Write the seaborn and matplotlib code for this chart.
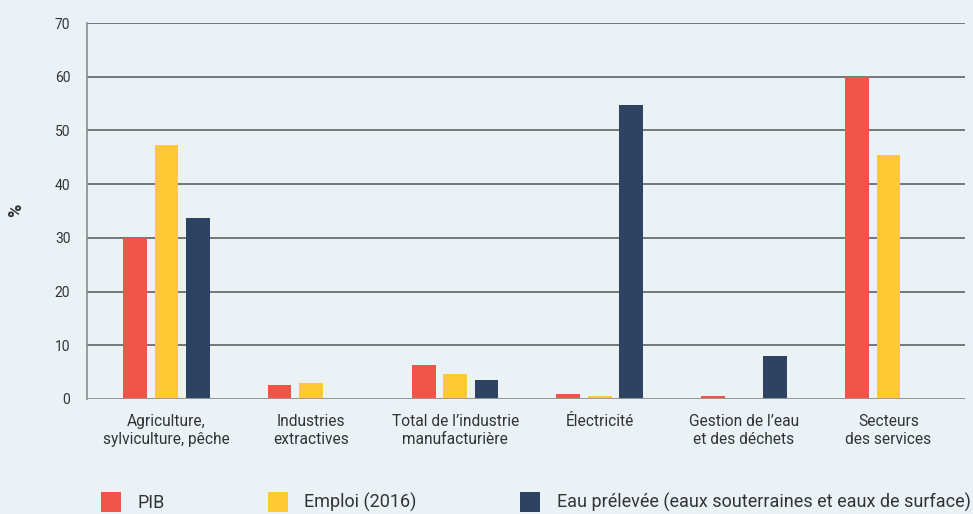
import pandas as pd
import numpy as np
import seaborn as sns
import matplotlib.pyplot as plt
from matplotlib.patches import Patch

# data (%)
secteurs = ['Agriculture,\nsylviculture, pêche', 'Industries\nextractives',
            'Total de l\u2019industrie\nmanufacturière', 'Électricité',
            'Gestion de l\u2019eau\net des déchets', 'Secteurs\ndes services']
series = ['PIB', 'Emploi (2016)', 'Eau prélevée (eaux souterraines et eaux de surface)']
pib = [30.0, 2.6, 6.3, 0.9, 0.5, 60.0]
emploi = [47.2, 3.0, 4.7, 0.5, 0.0, 45.4]
eau = [33.7, 0.0, 3.5, 54.8, 8.0, 0.0]
yticks = [0, 10, 20, 30, 40, 50, 60, 70]

couleurs = ['#F0554A', '#FFC933', '#2E4261']
fond = '#EAF2F6'

df = pd.DataFrame({'secteur': secteurs * 3,
                   'serie': np.repeat(series, len(secteurs)),
                   'valeur': pib + emploi + eau})

sns.set_style('white')
plt.rcParams['font.family'] = ['Roboto', 'DejaVu Sans']

fig = plt.figure(figsize=(9.73, 5.14), dpi=100, facecolor=fond)
ax = fig.add_axes([87/973, 1 - 399/514, (965 - 87)/973, (399 - 23)/514])
ax.set_facecolor(fond)

sns.barplot(data=df, x='secteur', y='valeur', hue='serie', order=secteurs,
            hue_order=series, palette=couleurs, width=0.65, gap=0.24,
            saturation=1, linewidth=0, ax=ax, legend=False)

ax.set_xlim(-0.55, 5.53)
ax.set_ylim(0, 70)
ax.set_yticks(yticks)
ax.set_axisbelow(True)
ax.yaxis.grid(True, color='#555555', linewidth=1.1)
for s in ['top', 'right', 'bottom']:
    ax.spines[s].set_visible(False)
ax.spines['left'].set_color('#8a8a8a')
ax.spines['left'].set_linewidth(1.2)
ax.axhline(0, color='#9a9a9a', linewidth=2, zorder=3)

ax.tick_params(axis='both', length=0, colors='#333333')
ax.tick_params(axis='y', pad=12, labelsize=10)
ax.tick_params(axis='x', pad=11, labelsize=11.2)
ax.set_xlabel('')
ax.set_ylabel('%', fontsize=13, fontweight='bold', color='#333333')
ax.yaxis.set_label_coords(-62/878, (399 - 210)/376)

handles = [Patch(facecolor=c, edgecolor='none') for c in couleurs]
fig.legend(handles, series, loc='center left', ncol=3,
           bbox_to_anchor=(101/973, 1 - 502/514), frameon=False,
           fontsize=13, handlelength=1.1, handleheight=1.4,
           handletextpad=0.9, columnspacing=5.75, borderpad=0,
           borderaxespad=0, labelcolor='#333333')

plt.savefig('out.png', dpi=100, facecolor=fond)
